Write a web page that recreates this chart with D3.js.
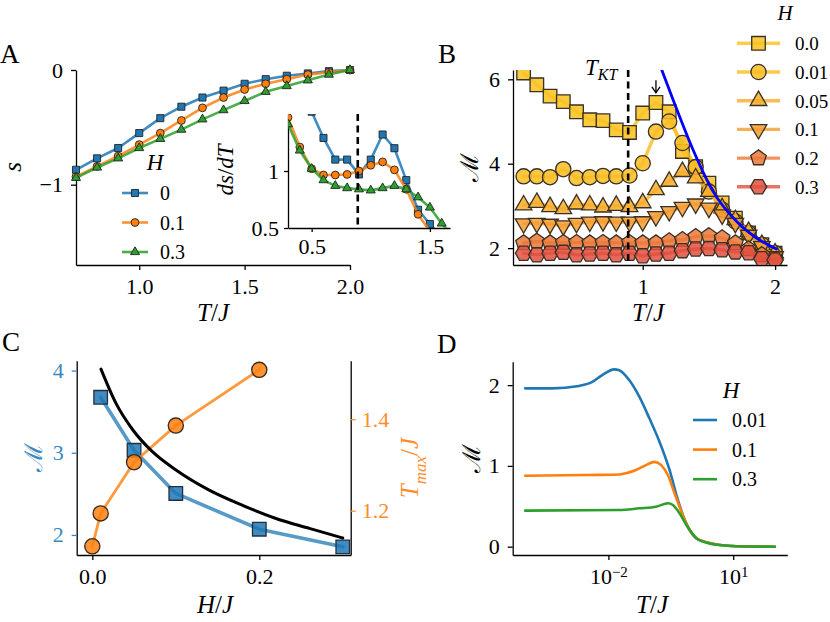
<!DOCTYPE html>
<html>
<head>
<meta charset="utf-8">
<script src="https://cdn.jsdelivr.net/npm/d3@7"></script>
<style>
body { margin: 0; background: #fff; }
text { font-family: "Liberation Serif", serif; }
</style>
</head>
<body>
<svg id="fig" width="830" height="622"></svg>
<script>
// ---- panel A: entropy s(T) ----
var aT = [0.7, 0.8, 0.9, 1.0, 1.1, 1.2, 1.3, 1.4, 1.5, 1.6, 1.7, 1.8, 1.9, 2.0];
var aS_H0  = [-0.87, -0.77, -0.68, -0.55, -0.42, -0.32, -0.24, -0.18, -0.12, -0.08, -0.05, -0.03, -0.01, 0];
var aS_H01 = [-0.93, -0.84, -0.75, -0.65, -0.55, -0.44, -0.33, -0.24, -0.17, -0.12, -0.08, -0.04, -0.02, 0];
var aS_H03 = [-0.94, -0.85, -0.77, -0.68, -0.60, -0.52, -0.43, -0.35, -0.27, -0.19, -0.14, -0.09, -0.04, 0];
var aLabels = ["0", "0.1", "0.3"];

// inset ds/dT
var insetT = [0.3, 0.4, 0.5, 0.6, 0.7, 0.8, 0.9, 1.0, 1.1, 1.2, 1.3, 1.4, 1.5, 1.6, 1.7];
var dsdT_H0  = [null, null, 1.52, 1.29, 1.10, 1.10, 0.97, 1.10, 1.32, 1.20, 0.92, 0.66, 0.535, 0.42, null];
var dsdT_H01 = [1.47, 1.21, 1.02, 0.965, 0.965, 0.97, 1.0, 1.05, 1.08, 1.01, 0.84, 0.62, 0.47, null, null];
var dsdT_H03 = [1.41, 1.18, 1.02, 0.92, 0.87, 0.85, 0.84, 0.83, 0.85, 0.87, 0.84, 0.77, 0.68, 0.54, 0.42];
var T_KT = 0.89;

// ---- panel B: M(T) for several H ----
var bT = [0.1, 0.2, 0.3, 0.4, 0.5, 0.6, 0.7, 0.8, 0.9, 1.0, 1.1, 1.2, 1.3, 1.4, 1.5, 1.6, 1.7, 1.8, 1.9, 2.0];
var bM_H000 = [6.15, 5.87, 5.6, 5.47, 5.23, 5.04, 5.02, 4.8, 4.74, 5.2, 5.45, 5.23, 4.29, 3.93, 3.54, 3.07, 2.71, 2.36, 2.08, 1.88];
var bM_H001 = [3.7, 3.7, 3.68, 3.87, 3.66, 3.68, 3.71, 3.7, 3.72, 4.01, 4.76, 5.0, 4.49, 3.92, 3.34, 2.91, 2.63, 2.36, 2.08, 1.88];
var bM_H005 = [3.02, 3.08, 2.98, 2.93, 3.04, 3.02, 2.97, 3.01, 2.98, 3.07, 3.38, 3.58, 3.81, 3.66, 3.34, 2.95, 2.67, 2.39, 2.08, 1.88];
var bM_H010 = [2.58, 2.59, 2.57, 2.53, 2.59, 2.62, 2.63, 2.62, 2.62, 2.63, 2.75, 2.87, 2.97, 3.05, 2.95, 2.79, 2.59, 2.31, 2.04, 1.80];
var bM_H020 = [2.12, 2.16, 2.12, 2.13, 2.13, 2.12, 2.13, 2.12, 2.13, 2.12, 2.12, 2.17, 2.2, 2.27, 2.29, 2.24, 2.12, 1.98, 1.84, 1.72];
var bM_H030 = [1.88, 1.84, 1.88, 1.9, 1.84, 1.86, 1.88, 1.84, 1.88, 1.82, 1.86, 1.88, 1.94, 1.98, 1.99, 1.96, 1.91, 1.89, 1.75, 1.72];
var bLabels = ["0.0", "0.01", "0.05", "0.1", "0.2", "0.3"];
var bFitT = [1.144, 1.23, 1.38, 1.53, 1.71, 1.86, 2.01];
var bFitM = [6.22, 5.51, 4.33, 3.35, 2.63, 2.24, 1.98];
var bPeakT = 1.1;

// ---- panel C: M and T_max vs H ----
var cH_M = [0.01, 0.05, 0.1, 0.2, 0.3];
var cM = [3.675, 3.03, 2.505, 2.07, 1.855];
var cH_T = [0, 0.01, 0.05, 0.1, 0.2];
var cTmax = [1.122, 1.194, 1.306, 1.386, 1.508];
var cFitH = [0.0104, 0.0284, 0.0484, 0.0723, 0.1002, 0.140, 0.180, 0.220, 0.260, 0.300];
var cFitM = [4.017, 3.60, 3.28, 3.01, 2.79, 2.545, 2.36, 2.20, 2.08, 1.963];

// ---- panel D: M(T) on log scale ----
var dT_H001 = [0.0001, 0.00044, 0.00195, 0.0041, 0.0071, 0.0138, 0.0182, 0.0316, 0.0553, 0.0966, 0.169, 0.295, 0.468, 0.746, 1.30, 2.28, 4.8, 12, 100];
var dM_H001 = [1.96, 1.96, 1.99, 2.04, 2.125, 2.195, 2.185, 2.063, 1.857, 1.589, 1.30, 0.95, 0.578, 0.285, 0.104, 0.055, 0.02, 0.005, 0.0];
var dT_H01 = [0.0001, 0.0028, 0.0126, 0.0263, 0.046, 0.080, 0.128, 0.186, 0.268, 0.389, 0.513, 0.746, 1.30, 2.28, 4.8, 12, 100];
var dM_H01 = [0.879, 0.887, 0.89, 0.91, 0.95, 1.01, 1.05, 1.01, 0.887, 0.66, 0.495, 0.285, 0.104, 0.055, 0.02, 0.005, 0.0];
var dT_H03 = [0.0001, 0.0182, 0.0553, 0.140, 0.268, 0.355, 0.513, 0.746, 1.30, 2.28, 4.8, 12, 100];
var dM_H03 = [0.446, 0.454, 0.475, 0.495, 0.537, 0.516, 0.413, 0.27, 0.104, 0.05, 0.02, 0.005, 0.0];
var dLabels = ["0.01", "0.1", "0.3"];

var tab = ["#1f77b4", "#ff7f0e", "#2ca02c"];
var bColors = ["#f9c21e", "#f9bd22", "#f7ad29", "#f49c30", "#eb7838", "#e0503f"];

var svg = d3.select("#fig");

// regular polygon marker, size = r*r
function poly(n, rot) {
    return {draw: function(ctx, size) {
        var r = Math.sqrt(size);
        for (var i = 0; i < n; i++) {
            var a = rot + i * 2 * Math.PI / n;
            if (i == 0) ctx.moveTo(r * Math.cos(a), r * Math.sin(a));
            else ctx.lineTo(r * Math.cos(a), r * Math.sin(a));
        }
        ctx.closePath();
    }};
}
var circ = {draw: function(ctx, size) {
    var r = Math.sqrt(size);
    ctx.moveTo(r, 0);
    ctx.arc(0, 0, r, 0, 2 * Math.PI);
}};
var shapes = {
    square: poly(4, Math.PI / 4),
    circle: circ,
    tri: poly(3, -Math.PI / 2),
    tridown: poly(3, Math.PI / 2),
    pent: poly(5, -Math.PI / 2),
    hex: poly(6, 0)
};
function mark(shape, r) { return d3.symbol().type(shapes[shape]).size(r * r)(); }

function styleAxis(g, col, fs) {
    col = col || "#000";
    g.attr("font-family", "Liberation Serif, serif").attr("font-size", fs || 22);
    g.select(".domain").attr("stroke", "#000").attr("stroke-width", 1.3);
    g.selectAll(".tick line").attr("stroke", col).attr("stroke-width", 1.3);
    g.selectAll(".tick text").attr("fill", col);
}

function mtext(sel, x, y, rot, parts, size, color) {
    var t = sel.append("text")
        .attr("transform", "translate(" + x + "," + y + ") rotate(" + (rot || 0) + ")")
        .attr("text-anchor", "middle")
        .attr("font-size", size)
        .attr("fill", color || "#000");
    var inSub = false;
    parts.forEach(function(p) {
        var s = t.append("tspan").text(p.t).attr("font-style", p.i ? "italic" : "normal");
        if (p.sub) {
            s.attr("font-size", size * 0.68);
            if (!inSub) { s.attr("dy", size * 0.3); inSub = true; }
        } else if (inSub) {
            s.attr("dy", -size * 0.3); inSub = false;
        }
    });
    return t;
}
var TJ = [{t: "T", i: 1}, {t: "/"}, {t: "J", i: 1}];

function series(g, xs, ys, x, y, color, shape, r, lw, opts) {
    opts = opts || {};
    var pts = xs.map(function(d, i) { return [d, ys[i]]; }).filter(function(p) { return p[1] != null; });
    var line = d3.line().x(function(p) { return x(p[0]); }).y(function(p) { return y(p[1]); });
    if (opts.curve) line.curve(opts.curve);
    g.append("path").attr("d", line(pts)).attr("fill", "none")
        .attr("stroke", color).attr("stroke-width", lw)
        .attr("stroke-opacity", opts.lineOpacity || 1)
        .attr("stroke-linejoin", "round").attr("stroke-linecap", "round");
    if (!shape) return;
    g.selectAll(null).data(pts).enter().append("path")
        .attr("d", mark(shape, r))
        .attr("transform", function(p) { return "translate(" + x(p[0]) + "," + y(p[1]) + ")"; })
        .attr("fill", color).attr("fill-opacity", opts.fillOpacity || 1)
        .attr("stroke", opts.edge || "#222").attr("stroke-width", opts.edgeWidth || 0.9);
}

function clip(id, x0, y0, w, h) {
    svg.append("clipPath").attr("id", id).append("rect")
        .attr("x", x0).attr("y", y0).attr("width", w).attr("height", h);
}

// ============ Panel A ============
var ax = d3.scaleLinear().domain([0.7, 2.0]).range([76, 350]);
var ay = d3.scaleLinear().domain([-1.7, 0]).range([265, 70]);
svg.append("g").attr("transform", "translate(0,265)")
    .call(d3.axisBottom(ax).tickValues([1.0, 1.5, 2.0]).tickFormat(d3.format(".1f")).tickSize(5).tickSizeOuter(0).tickPadding(8))
    .call(styleAxis);
svg.append("g").attr("transform", "translate(76,0)")
    .call(d3.axisLeft(ay).tickValues([0, -1]).tickFormat(function(d) { return d == 0 ? "0" : "\u22121"; }).tickSize(5).tickSizeOuter(0).tickPadding(8))
    .call(styleAxis);
var aShapes = ["square", "circle", "tri"];
var aRad = [5, 3.9, 5.2];
[aS_H0, aS_H01, aS_H03].forEach(function(s, i) {
    series(svg.append("g"), aT, s, ax, ay, tab[i], aShapes[i], aRad[i], 2.6, {lineOpacity: 0.85});
});
mtext(svg, 21, 167, -90, [{t: "s", i: 1}], 25);
mtext(svg, 213, 321, 0, TJ, 25);
svg.append("text").attr("x", 0).attr("y", 63).attr("font-size", 27).text("A");

// legend A
var lgA = svg.append("g");
mtext(lgA, 155, 170, 0, [{t: "H", i: 1}], 23);
aLabels.forEach(function(l, i) {
    var yy = 193 + i * 29.5;
    lgA.append("line").attr("x1", 122).attr("x2", 148).attr("y1", yy).attr("y2", yy)
        .attr("stroke", tab[i]).attr("stroke-width", 2.6).attr("stroke-opacity", 0.85);
    lgA.append("path").attr("d", mark(aShapes[i], aRad[i])).attr("transform", "translate(135," + yy + ")")
        .attr("fill", tab[i]).attr("stroke", "#222").attr("stroke-width", 0.9);
    lgA.append("text").attr("x", 160).attr("y", yy + 7).attr("font-size", 20).text(l);
});

// inset
var ix = d3.scaleLinear().domain([0.3, 1.67]).range([288, 450]);
var iy = d3.scaleLinear().domain([0.5, 1.5]).range([228, 114]);
clip("clipInset", 288, 114, 162, 114);
svg.append("g").attr("transform", "translate(0,228)")
    .call(d3.axisBottom(ix).tickValues([0.5, 1.5]).tickFormat(d3.format(".1f")).tickSize(4).tickSizeOuter(0).tickPadding(6))
    .call(styleAxis);
svg.append("g").attr("transform", "translate(288,0)")
    .call(d3.axisLeft(iy).tickValues([0.5, 1]).tickFormat(function(d) { return d == 1 ? "1" : "0.5"; }).tickSize(4).tickSizeOuter(0).tickPadding(5))
    .call(styleAxis);
var gi = svg.append("g").attr("clip-path", "url(#clipInset)");
[dsdT_H0, dsdT_H01, dsdT_H03].forEach(function(s, i) {
    series(gi, insetT, s, ix, iy, tab[i], aShapes[i], aRad[i], 2.6, {lineOpacity: 0.85});
});
svg.append("line").attr("x1", ix(T_KT)).attr("x2", ix(T_KT)).attr("y1", iy(1.5)).attr("y2", iy(0.5))
    .attr("stroke", "#000").attr("stroke-width", 2.6).attr("stroke-dasharray", "7,4.5");
mtext(svg, 233, 170, -90, [{t: "d", i: 1}, {t: "s", i: 1}, {t: "/"}, {t: "d", i: 1}, {t: "T", i: 1}], 23);

// ============ Panel B ============
var bx = d3.scaleLinear().domain([0.02, 2.09]).range([513, 787]);
var by = d3.scaleLinear().domain([1.6, 6.22]).range([265, 70]);
clip("clipB", 513, 70, 274, 195);
svg.append("g").attr("transform", "translate(0,265)")
    .call(d3.axisBottom(bx).tickValues([1, 2]).tickFormat(d3.format("d")).tickSize(5).tickSizeOuter(0).tickPadding(8))
    .call(styleAxis);
svg.append("g").attr("transform", "translate(513,0)")
    .call(d3.axisLeft(by).tickValues([2, 4, 6]).tickFormat(d3.format("d")).tickSize(5).tickSizeOuter(0).tickPadding(8))
    .call(styleAxis);
var bShapes = ["square", "circle", "tri", "tridown", "pent", "hex"];
var bRad = [9.6, 7.6, 9.6, 9.6, 8.2, 8.2];
var gb = svg.append("g").attr("clip-path", "url(#clipB)");
[bM_H000, bM_H001, bM_H005, bM_H010, bM_H020, bM_H030].forEach(function(s, i) {
    series(gb, bT, s, bx, by, bColors[i], bShapes[i], bRad[i], 3.4,
        {lineOpacity: 0.8, fillOpacity: 0.85, edge: "#3a3025", edgeWidth: 1.3});
});
gb.append("line").attr("x1", bx(T_KT)).attr("x2", bx(T_KT)).attr("y1", by(6.22)).attr("y2", by(1.6))
    .attr("stroke", "#000").attr("stroke-width", 2.6).attr("stroke-dasharray", "7,4.5");
series(gb, bFitT, bFitM, bx, by, "#0000ff", null, 0, 2.8, {curve: d3.curveMonotoneX});
// arrow at the peak
var arX = bx(bPeakT);
svg.append("path")
    .attr("d", "M" + arX + "," + by(5.98) + "L" + arX + "," + by(5.68) +
        "M" + (arX - 4) + "," + (by(5.68) - 6) + "L" + arX + "," + by(5.68) + "L" + (arX + 4) + "," + (by(5.68) - 6))
    .attr("fill", "none").attr("stroke", "#000").attr("stroke-width", 1.3);
svg.append("text").attr("x", 585).attr("y", 75).attr("font-size", 23)
    .call(function(t) {
        t.append("tspan").attr("font-style", "italic").text("T");
        t.append("tspan").attr("font-style", "italic").attr("font-size", 16).attr("dy", 5).text("KT");
    });
mtext(svg, 478, 167, -90, [{t: "\u2133"}], 25);
mtext(svg, 648, 321, 0, TJ, 25);
svg.append("text").attr("x", 438).attr("y", 63).attr("font-size", 27).text("B");

// legend B
var lgB = svg.append("g");
mtext(lgB, 785, 20, 0, [{t: "H", i: 1}], 21);
bLabels.forEach(function(l, i) {
    var yy = 43.3 + i * 28.7;
    lgB.append("line").attr("x1", 737).attr("x2", 780).attr("y1", yy).attr("y2", yy)
        .attr("stroke", bColors[i]).attr("stroke-width", 3.4).attr("stroke-opacity", 0.8);
    lgB.append("path").attr("d", mark(bShapes[i], bRad[i])).attr("transform", "translate(758.5," + yy + ")")
        .attr("fill", bColors[i]).attr("fill-opacity", 0.85).attr("stroke", "#3a3025").attr("stroke-width", 1.3);
    lgB.append("text").attr("x", 795).attr("y", yy + 7).attr("font-size", 19).text(l);
});

// ============ Panel C ============
var cx = d3.scaleLinear().domain([-0.0187, 0.3095]).range([76.7, 350.7]);
var cyL = d3.scaleLinear().domain([1.756, 4.12]).range([555, 360.7]);
var cyR = d3.scaleLinear().domain([1.103, 1.528]).range([555, 360.7]);
svg.append("g").attr("transform", "translate(0,555)")
    .call(d3.axisBottom(cx).tickValues([0, 0.2]).tickFormat(d3.format(".1f")).tickSize(5).tickSizeOuter(0).tickPadding(8))
    .call(styleAxis);
svg.append("g").attr("transform", "translate(76.7,0)")
    .call(d3.axisLeft(cyL).tickValues([2, 3, 4]).tickFormat(d3.format("d")).tickSize(5).tickSizeOuter(0).tickPadding(8))
    .call(styleAxis, "#3a87c0");
svg.append("g").attr("transform", "translate(350.7,0)")
    .call(d3.axisRight(cyR).tickValues([1.2, 1.4]).tickFormat(d3.format(".1f")).tickSize(5).tickSizeOuter(0).tickPadding(6))
    .call(styleAxis, "#ff8c2a");
var gc = svg.append("g");
series(gc, cH_M, cM, cx, cyL, tab[0], "square", 9.6, 3.6, {lineOpacity: 0.75, fillOpacity: 0.85, edge: "#233040", edgeWidth: 1.3});
series(gc, cH_T, cTmax, cx, cyR, tab[1], "circle", 7.6, 2.8, {lineOpacity: 0.8, fillOpacity: 0.85, edge: "#3a2a1a", edgeWidth: 1.3});
series(gc, cFitH, cFitM, cx, cyL, "#000", null, 0, 3, {curve: d3.curveMonotoneX});
mtext(svg, 42, 457, -90, [{t: "\u2133"}], 25, "#3a87c0");
mtext(svg, 418, 468, -90, [{t: "T", i: 1}, {t: "max", i: 1, sub: 1}, {t: "/"}, {t: "J", i: 1}], 25, "#ff8c2a");
mtext(svg, 215, 613, 0, [{t: "H", i: 1}, {t: "/"}, {t: "J", i: 1}], 25);
svg.append("text").attr("x", 2).attr("y", 351).attr("font-size", 27).text("C");

// ============ Panel D ============
var dx = d3.scaleLog().domain([Math.pow(10, -4.3), Math.pow(10, 2.3)]).range([512.7, 787.3]);
var dy = d3.scaleLinear().domain([-0.103, 2.29]).range([555, 361.7]);
svg.append("g").attr("transform", "translate(0,555)")
    .call(d3.axisBottom(dx).tickValues([0.01, 10]).tickSize(5).tickSizeOuter(0).tickPadding(8))
    .call(styleAxis)
    .call(function(g) {
        g.selectAll(".tick text").each(function(d) {
            var e = Math.round(Math.log10(d));
            var t = d3.select(this).text("10");
            t.append("tspan").attr("dy", "-0.45em").attr("font-size", 15).text(e < 0 ? "\u2212" + (-e) : e);
        });
    });
svg.append("g").attr("transform", "translate(512.7,0)")
    .call(d3.axisLeft(dy).tickValues([0, 1, 2]).tickFormat(d3.format("d")).tickSize(5).tickSizeOuter(0).tickPadding(8))
    .call(styleAxis);
var gd = svg.append("g");
[[dT_H001, dM_H001], [dT_H01, dM_H01], [dT_H03, dM_H03]].forEach(function(s, i) {
    series(gd, s[0], s[1], dx, dy, tab[i], null, 0, 2.6, {curve: d3.curveMonotoneX});
});
mtext(svg, 480, 458, -90, [{t: "\u2133"}], 25);
mtext(svg, 652, 613, 0, TJ, 25);
svg.append("text").attr("x", 437).attr("y", 353).attr("font-size", 27).text("D");

// legend D
var lgD = svg.append("g");
mtext(lgD, 731, 398, 0, [{t: "H", i: 1}], 23);
dLabels.forEach(function(l, i) {
    var yy = 420 + i * 29.6;
    lgD.append("line").attr("x1", 693).attr("x2", 717).attr("y1", yy).attr("y2", yy)
        .attr("stroke", tab[i]).attr("stroke-width", 2.6);
    lgD.append("text").attr("x", 732).attr("y", yy + 7).attr("font-size", 20).text(l);
});
</script>
</body>
</html>
